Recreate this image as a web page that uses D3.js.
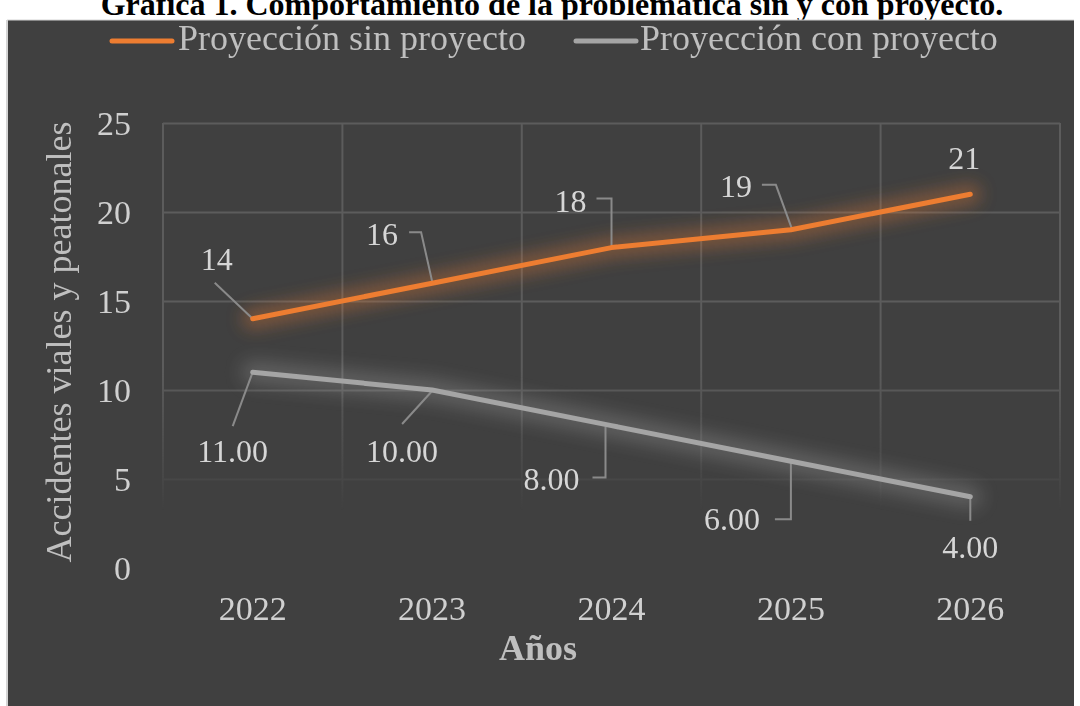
<!DOCTYPE html>
<html><head><meta charset="utf-8">
<script src="https://cdn.jsdelivr.net/npm/d3@7"></script>
<style>body{margin:0;background:#fff}svg{display:block}text{font-family:"Liberation Serif","Times New Roman",serif}</style>
</head><body>
<script>
const years = ["2022","2023","2024","2025","2026"];
const sinProyecto = [14,16,18,19,21];
const conProyecto = [11,10,8,6,4];
const yTicks = [0,5,10,15,20,25];
const seriesNames = ["Proyección sin proyecto","Proyección con proyecto"];
const titleText = "Gráfica 1. Comportamiento de la problemática sin y con proyecto.";
const xTitle = "Años";
const yTitle = "Accidentes viales y peatonales";

// label layout offsets (relative to data point)
const sinLabelLayout = [
  {dx:-36, dy:-49, leader:[[-38,-36],[0,0]]},
  {dx:-50, dy:-38, leader:[[-23,-51],[-11,-51],[0,-2]]},
  {dx:-41, dy:-36, leader:[[-15,-49],[0,-49],[0,-1]]},
  {dx:-55, dy:-33, leader:[[-29,-45],[-15,-45],[1,-1]]},
  {dx:-6, dy:-25, leader:null}
];
const conLabelLayout = [
  {dx:-20, dy:90, leader:[[-20,54],[0,0]]},
  {dx:-30, dy:72, leader:[[-30,34],[0,1]]},
  {dx:-60, dy:64, leader:[[-19,52],[-6,52],[-6,1]]},
  {dx:-59, dy:69, leader:[[-16,58],[0,58],[0,1]]},
  {dx:0, dy:61, leader:[[0,24],[0,1]]}
];

const W=1080,H=706;
const svg=d3.select("body").append("svg").attr("width",W).attr("height",H);
const defs=svg.append("defs");
defs.append("filter").attr("id","glowO").attr("x","-20%").attr("y","-60%").attr("width","140%").attr("height","220%")
  .append("feGaussianBlur").attr("stdDeviation",8);
defs.append("filter").attr("id","glowG").attr("x","-20%").attr("y","-60%").attr("width","140%").attr("height","220%")
  .append("feGaussianBlur").attr("stdDeviation",9);
const grad=defs.append("linearGradient").attr("id","fadeGrad").attr("gradientUnits","userSpaceOnUse")
  .attr("x1",0).attr("x2",0).attr("y1",123).attr("y2",568);
grad.append("stop").attr("offset",0).attr("stop-color","#fff");
grad.append("stop").attr("offset",0.55).attr("stop-color","#fff");
grad.append("stop").attr("offset",0.8).attr("stop-color","#fff").attr("stop-opacity",0.25);
grad.append("stop").attr("offset",0.87).attr("stop-color","#fff").attr("stop-opacity",0);
grad.append("stop").attr("offset",1).attr("stop-color","#fff").attr("stop-opacity",0);
defs.append("mask").attr("id","fadeMask").attr("maskUnits","userSpaceOnUse").attr("x",0).attr("y",0).attr("width",W).attr("height",H)
  .append("rect").attr("x",0).attr("y",0).attr("width",W).attr("height",H).attr("fill","url(#fadeGrad)");

// title (partially hidden at the top edge)
svg.append("text").attr("x",552).attr("y",15).attr("text-anchor","middle")
  .attr("font-size",32).attr("font-weight","bold").attr("fill","#000").text(titleText);

// chart background
svg.append("rect").attr("x",8).attr("y",20).attr("width",1066).attr("height",H-20).attr("fill","#404040");
svg.append("line").attr("x1",7).attr("x2",7).attr("y1",20).attr("y2",H).attr("stroke","#d4d4d4").attr("stroke-width",2);
svg.append("line").attr("x1",7).attr("x2",1074).attr("y1",20).attr("y2",20).attr("stroke","#d4d4d4").attr("stroke-width",1);

const x=d3.scaleBand().domain(years).range([163,1060]);
const y=d3.scaleLinear().domain([0,25]).range([568,123]);
const cx=d=>x(d)+x.bandwidth()/2;

// gridlines
const grid=svg.append("g").attr("mask","url(#fadeMask)");
grid.append("g").attr("transform","translate(163,0)")
  .call(d3.axisLeft(y).tickValues(yTicks.filter(v=>v>0)).tickSize(-(1060-163)).tickFormat(""))
  .call(g=>g.select(".domain").remove())
  .call(g=>g.selectAll("line").attr("stroke","#5c5c5c").attr("stroke-width",2));
const vb=years.map(d=>x(d)).concat([x.range()[1]]);
grid.selectAll("line.v").data(vb).enter().append("line").attr("class","v")
  .attr("x1",d=>d).attr("x2",d=>d).attr("y1",y(25)).attr("y2",y(0))
  .attr("stroke","#5c5c5c").attr("stroke-width",2);

// y axis labels
svg.append("g").attr("transform","translate(131,0)")
  .call(d3.axisLeft(y).tickValues(yTicks).tickSize(0).tickPadding(0))
  .call(g=>g.select(".domain").remove())
  .call(g=>g.selectAll("text").attr("font-size",34).attr("fill","#d0d0d0")
     .attr("font-family","Liberation Serif").attr("dy","0.34em"));
// x axis labels
svg.append("g").attr("transform","translate(0,620)")
  .call(d3.axisBottom(x).tickSize(0).tickPadding(0))
  .call(g=>g.select(".domain").remove())
  .call(g=>g.selectAll("text").attr("font-size",34).attr("fill","#d0d0d0")
     .attr("font-family","Liberation Serif").attr("dy",0).attr("y",0));

// axis titles
svg.append("text").attr("x",538).attr("y",660).attr("text-anchor","middle")
  .attr("font-size",36).attr("font-weight","bold").attr("fill","#bfbfbf").text(xTitle);
svg.append("text").attr("transform","translate(71,342) rotate(-90)").attr("text-anchor","middle")
  .attr("font-size",36).attr("fill","#bfbfbf").text(yTitle);

const line=d3.line().x((d,i)=>cx(years[i])).y(d=>y(d));

function drawSeries(vals,color,glowColor,glowW,glowOp,filt,layout,fmt){
  const g=svg.append("g");
  g.append("path").datum(vals).attr("d",line).attr("fill","none").attr("stroke",glowColor)
    .attr("stroke-width",glowW).attr("stroke-opacity",glowOp).attr("stroke-linecap","round").attr("filter",`url(#${filt})`);
  vals.forEach((v,i)=>{
    const L=layout[i]; if(!L.leader) return;
    const px=cx(years[i]),py=y(v);
    g.append("polyline").attr("points",L.leader.map(p=>[px+p[0],py+p[1]].join(",")).join(" "))
      .attr("fill","none").attr("stroke","#8a8a8a").attr("stroke-width",2);
  });
  g.append("path").datum(vals).attr("d",line).attr("fill","none").attr("stroke",color)
    .attr("stroke-width",5).attr("stroke-linecap","round").attr("stroke-linejoin","round");
  g.selectAll("text.lbl").data(vals).enter().append("text").attr("class","lbl")
    .attr("x",(d,i)=>cx(years[i])+layout[i].dx).attr("y",(d,i)=>y(d)+layout[i].dy)
    .attr("text-anchor","middle").attr("font-size",32).attr("fill","#d6d6d6").text(fmt);
}
drawSeries(conProyecto,"#a5a5a5","#e8e8e8",22,0.2,"glowG",conLabelLayout,d3.format(".2f"));
drawSeries(sinProyecto,"#ed7d31","#ed7d31",22,0.32,"glowO",sinLabelLayout,d3.format("d"));

// legend
const legend=[{name:seriesNames[0],color:"#ed7d31",x0:112,x1:172,tx:178},
              {name:seriesNames[1],color:"#a5a5a5",x0:576,x1:636,tx:640}];
const lg=svg.append("g");
legend.forEach(l=>{
  lg.append("line").attr("x1",l.x0).attr("x2",l.x1).attr("y1",41).attr("y2",41)
    .attr("stroke",l.color).attr("stroke-width",5).attr("stroke-linecap","round");
  lg.append("text").attr("x",l.tx).attr("y",50).attr("font-size",36).attr("fill","#bfbfbf").text(l.name);
});
</script>
</body></html>
